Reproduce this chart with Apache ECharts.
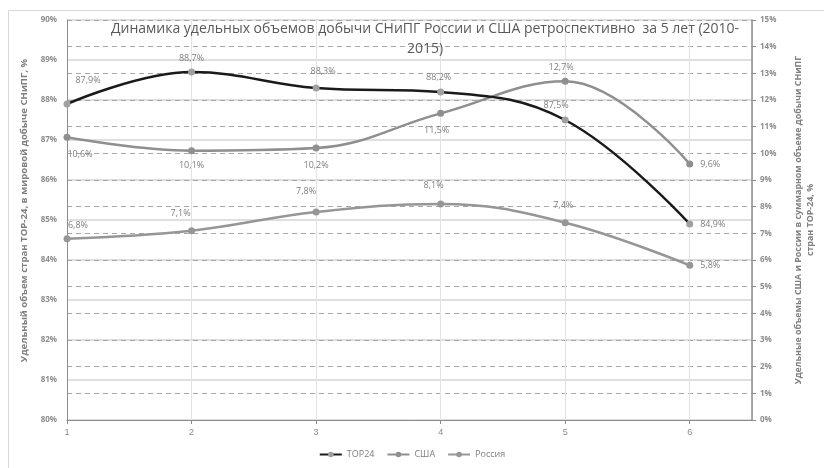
<!DOCTYPE html>
<html><head><meta charset="utf-8">
<script src="https://cdn.jsdelivr.net/npm/echarts@6/dist/echarts.min.js"></script>
<style>html,body{margin:0;padding:0;background:#fff}#c{width:824px;height:468px}</style>
</head><body><div id="c"></div>
<script>
const categories = [1, 2, 3, 4, 5, 6];
const top24 = [87.9, 88.7, 88.3, 88.2, 87.5, 84.9];
const usa = [10.6, 10.1, 10.2, 11.5, 12.7, 9.6];
const russia = [6.8, 7.1, 7.8, 8.1, 7.4, 5.8];
const leftTicks = [80, 81, 82, 83, 84, 85, 86, 87, 88, 89, 90];
const rightTicks = [0,1,2,3,4,5,6,7,8,9,10,11,12,13,14,15];

// label placement (layout only)
const offTop = [[21,-24],[0,-14],[7,-17],[-2,-15],[-9,-15],null];
const offUsa = [[13,17],[0,15],[0,17],[-4,17],[-4,-14],null];
const offRus = [[11,-13],[-11,-17],[-10,-21],[-7,-19],[-2,-17],null];

const fmt = v => String(v).replace('.', ',') + '%';
function build(vals, offs) {
  return vals.map((v, i) => {
    const o = offs[i];
    return {
      value: [categories[i], v],
      label: o ? {position: 'inside', offset: o} : {position: 'right', distance: 7}
    };
  });
}
const labelStyle = {show: true, fontSize: 9, color: '#7f7f7f', fontFamily: 'Open Sans',
  formatter: p => fmt(p.value[1])};

const chart = echarts.init(document.getElementById('c'), null, {renderer: 'canvas'});
chart.setOption({
  animation: false,
  graphic: [{type: 'rect', shape: {x: 8.5, y: 10.5, width: 830, height: 470},
    style: {fill: 'none', stroke: '#d9d9d9', lineWidth: 1}, z: -10}],
  title: {
    text: 'Динамика удельных объемов добычи СНиПГ России и США ретроспективно  за 5 лет (2010-\n2015)',
    left: 420, top: 14, textAlign: 'center',
    textStyle: {fontSize: 14, fontWeight: 'normal', color: '#595959', fontFamily: 'Open Sans', lineHeight: 20}
  },
  legend: {
    bottom: 4, left: 'center', itemWidth: 22, itemHeight: 7, itemGap: 12,
    textStyle: {fontSize: 9, color: '#7f7f7f', fontFamily: 'Open Sans'},
    data: ['TOP24', 'США', 'Россия']
  },
  grid: {left: 67, right: 67, top: 20, bottom: 48},
  xAxis: {
    type: 'value', min: 1, max: 6.5, interval: 1,
    axisLine: {lineStyle: {color: '#8c8c8c'}},
    axisTick: {show: true, length: 4, lineStyle: {color: '#8c8c8c'}},
    axisLabel: {fontSize: 9, color: '#8c8c8c', margin: 8, showMaxLabel: false,
      formatter: v => Number.isInteger(v) ? String(v) : ''},
    splitLine: {show: true, lineStyle: {color: '#e3e3e3', width: 1}}
  },
  yAxis: [{
    type: 'value', min: leftTicks[0], max: leftTicks[leftTicks.length-1], interval: 1,
    name: 'Удельный объем стран TOP-24, в мировой добыче СНиПГ, %',
    nameLocation: 'middle', nameGap: 34, nameRotate: 90,
    nameTextStyle: {fontSize: 9.6, fontWeight: 'bold', color: '#7f7f7f', fontFamily: 'Open Sans', padding: [0, 0, 0, 19]},
    axisLine: {show: true, lineStyle: {color: '#8c8c8c'}},
    axisTick: {show: false},
    axisLabel: {fontSize: 8, fontWeight: 'bold', color: '#8c8c8c', margin: 10, fontFamily: 'Open Sans',
      formatter: v => v + '%'},
    splitLine: {show: true, lineStyle: {color: '#d4d4d4', width: 1.5}}
  }, {
    type: 'value', min: rightTicks[0], max: rightTicks[rightTicks.length-1], interval: 1,
    position: 'right',
    name: 'Удельные объемы США и России в суммарном объеме добычи СНиПГ\nстран TOP-24, %',
    nameLocation: 'middle', nameGap: 40, nameRotate: 90,
    nameTextStyle: {fontSize: 8.9, fontWeight: 'bold', color: '#7f7f7f', fontFamily: 'Open Sans', lineHeight: 12, align: 'center'},
    axisLine: {show: true, lineStyle: {color: '#8c8c8c', width: 1.5}},
    axisTick: {show: true, length: 4, lineStyle: {color: '#8c8c8c'}},
    axisLabel: {fontSize: 8, fontWeight: 'bold', color: '#8c8c8c', margin: 8, fontFamily: 'Open Sans',
      formatter: v => v + '%'},
    splitLine: {show: true, lineStyle: {color: '#a6a6a6', type: [5, 4], width: 1}}
  }],
  series: [{
    name: 'TOP24', type: 'line', yAxisIndex: 0, smooth: 0.4,
    data: build(top24, offTop),
    lineStyle: {color: '#1a1a1a', width: 2.5},
    itemStyle: {color: '#a0a0a0'},
    symbol: 'circle', symbolSize: 7,
    label: labelStyle, z: 5
  }, {
    name: 'США', type: 'line', yAxisIndex: 1, smooth: 0.4,
    data: build(usa, offUsa),
    lineStyle: {color: '#8f8f8f', width: 2.5},
    itemStyle: {color: '#8f8f8f'},
    symbol: 'circle', symbolSize: 7,
    label: labelStyle
  }, {
    name: 'Россия', type: 'line', yAxisIndex: 1, smooth: 0.4,
    data: build(russia, offRus),
    lineStyle: {color: '#969696', width: 2.5},
    itemStyle: {color: '#969696'},
    symbol: 'circle', symbolSize: 7,
    label: labelStyle
  }]
});
</script></body></html>
